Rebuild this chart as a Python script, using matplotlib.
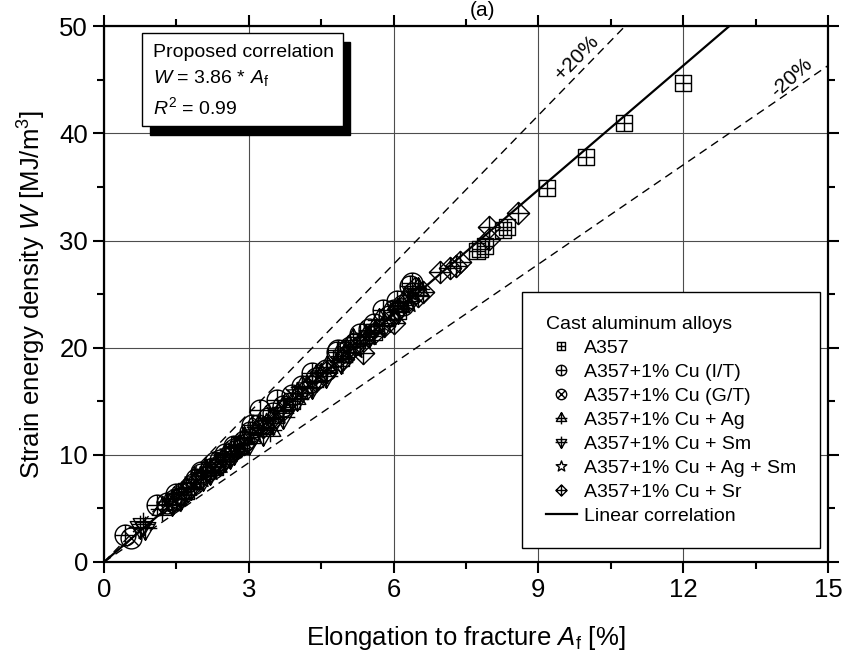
import numpy as np
import matplotlib
matplotlib.use("Agg")
import matplotlib.pyplot as plt
from matplotlib.path import Path
from matplotlib.patches import Rectangle
from matplotlib.ticker import MultipleLocator

plt.rcParams["font.family"] = ["Liberation Sans", "DejaVu Sans"]
plt.rcParams["mathtext.fontset"] = "custom"
plt.rcParams["mathtext.rm"] = "Liberation Sans"
plt.rcParams["mathtext.it"] = "Liberation Sans:italic"

# ------------------------------
# data (A_f [%], W [MJ/m3])
# ------------------------------
a357_x = [12.0, 10.77, 9.98, 9.18, 8.27, 8.35, 7.78, 7.72, 7.9, 6.1, 5.6, 4.9, 3.9, 2.8, 2.3, 1.7]
a357_y = [44.7, 41.0, 37.8, 34.9, 31.0, 31.3, 29.2, 29.0, 29.5, 23.4, 21.5, 19.0, 15.0, 10.9, 8.9, 6.6]

it_x = [6.38, 6.34, 6.07, 5.78, 4.85, 4.83, 3.58, 3.23, 3.07, 3.02, 2.3, 1.9, 1.5, 1.1, 0.43,
        2.7, 4.3, 5.3, 6.2, 2.0, 2.5, 3.4, 4.1, 5.1, 5.6]
it_y = [26.0, 25.8, 24.4, 23.5, 19.8, 19.6, 15.1, 14.2, 12.8, 12.1, 9.3, 7.7, 6.3, 5.3, 2.5,
        10.8, 17.6, 21.3, 24.0, 8.4, 10.1, 13.4, 16.4, 20.1, 22.2]

gt_x = [0.55, 1.3, 1.6, 2.0, 2.4, 2.7, 3.2, 3.5, 3.9, 4.4, 5.0, 5.5, 5.9, 6.4,
        1.45, 1.85, 2.25, 2.9, 3.7, 4.6, 5.2, 6.0]
gt_y = [2.2, 5.5, 6.3, 8.2, 9.5, 10.5, 12.8, 13.9, 15.6, 17.2, 19.6, 21.7, 23.0, 25.1,
        5.8, 7.3, 8.8, 11.3, 14.6, 17.9, 20.4, 23.5]

ag_x = [1.2, 1.7, 2.1, 2.5, 2.9, 3.44, 3.7, 4.1, 4.62, 5.16, 5.7, 6.5,
        1.5, 2.3, 2.75, 3.2, 3.95, 4.4, 5.4, 6.2]
ag_y = [4.9, 6.8, 8.6, 10.0, 11.6, 12.3, 14.5, 16.3, 18.2, 20.7, 22.6, 25.5,
        5.9, 9.0, 10.6, 12.6, 15.3, 17.4, 21.0, 24.3]

sm_x = [0.75, 0.85, 0.8, 1.4, 1.8, 2.2, 2.5, 2.7, 3.0, 3.3, 3.7, 4.3, 4.9, 5.5, 6.1,
        1.6, 2.05, 2.6, 3.5, 4.0, 4.6, 5.8]
sm_y = [3.3, 3.2, 3.5, 5.4, 6.9, 8.3, 9.6, 10.2, 11.1, 11.9, 13.5, 16.3, 18.7, 21.1, 23.3,
        6.0, 7.7, 9.8, 13.0, 15.2, 17.4, 22.1]

agsm_x = [1.3, 1.6, 1.89, 2.2, 2.6, 3.1, 3.6, 4.0, 4.5, 5.2, 5.8, 6.3,
          1.45, 2.0, 2.4, 2.85, 3.35, 4.2, 4.8, 5.5]
agsm_y = [5.3, 6.4, 7.65, 8.6, 10.3, 12.0, 13.9, 15.8, 17.5, 20.0, 22.3, 24.3,
          5.6, 7.9, 9.2, 11.0, 12.9, 16.4, 18.5, 21.2]

sr_x = [8.58, 7.98, 7.98, 7.38, 7.30, 7.17, 6.96, 6.6, 6.5, 6.3, 6.1, 6.0, 5.6, 5.37, 5.3,
        4.95, 4.6, 4.2, 3.7, 3.3, 2.9, 2.6, 2.2, 1.8, 1.5, 6.45, 5.8, 5.05, 4.4, 3.5, 2.4]
sr_y = [32.6, 31.25, 30.1, 28.0, 27.6, 27.4, 27.05, 25.2, 24.8, 24.4, 23.6, 22.3, 21.4, 19.5, 20.3,
        18.9, 17.7, 16.2, 14.2, 12.6, 11.0, 10.0, 8.5, 7.0, 5.9, 25.6, 22.0, 19.6, 16.9, 13.3, 9.1]

slope = 3.86
band = 0.20

# ------------------------------
# custom open markers
# ------------------------------
def seg(p, q):
    return Path([p, q], [Path.MOVETO, Path.LINETO])

sq = Path([(-1, -1), (1, -1), (1, 1), (-1, 1), (-1, -1)], closed=True)
m_sqplus = Path.make_compound_path(sq, seg((0, -1), (0, 1)), seg((-1, 0), (1, 0)))
m_cplus = Path.make_compound_path(Path.unit_circle(), seg((0, -1), (0, 1)), seg((-1, 0), (1, 0)))
d = 0.707
m_cx = Path.make_compound_path(Path.unit_circle(), seg((-d, -d), (d, d)), seg((-d, d), (d, -d)))
tri = Path([(0, 1), (-0.87, -0.5), (0.87, -0.5), (0, 1)], closed=True)
m_tup = Path.make_compound_path(tri, seg((0, 1), (0, -1)), seg((-1, 0.0), (1, 0.0)))
trid = Path([(0, -1), (-0.87, 0.5), (0.87, 0.5), (0, -1)], closed=True)
m_tdn = Path.make_compound_path(trid, seg((0, -1), (0, 1)), seg((-1, 0.0), (1, 0.0)))
m_star = Path.unit_regular_star(5, 0.42)
dia = Path([(0, 1), (1, 0), (0, -1), (-1, 0), (0, 1)], closed=True)
m_dia = Path.make_compound_path(dia, seg((0, -1), (0, 1)), seg((-1, 0), (1, 0)))

series = [
    (a357_x, a357_y, m_sqplus, 12, "A357"),
    (it_x, it_y, m_cplus, 15, "A357+1% Cu (I/T)"),
    (gt_x, gt_y, m_cx, 15, "A357+1% Cu (G/T)"),
    (ag_x, ag_y, m_tup, 17, "A357+1% Cu + Ag"),
    (sm_x, sm_y, m_tdn, 17, "A357+1% Cu + Sm"),
    (agsm_x, agsm_y, m_star, 16, "A357+1% Cu + Ag + Sm"),
    (sr_x, sr_y, m_dia, 16, "A357+1% Cu + Sr"),
]

fig = plt.figure(figsize=(8.43, 6.55), dpi=100)
ax = fig.add_axes([0.1234, 0.142, 0.8588, 0.818])

handles = []
for xs, ys, mk, ms, lab in series:
    h, = ax.plot(xs, ys, linestyle="none", marker=mk, markersize=ms,
                 markerfacecolor="none", markeredgecolor="black",
                 markeredgewidth=1.0, label=lab, zorder=3)
    handles.append(h)

xl = np.array([0, 50 / slope])
hl, = ax.plot(xl, slope * xl, color="black", lw=1.6, zorder=4, label="Linear correlation")
handles.append(hl)

xu = np.array([0, 50 / (slope * (1 + band))])
ax.plot(xu, slope * (1 + band) * xu, color="black", lw=1.0, dashes=(6, 4), zorder=2)
xd = np.array([0, 15])
ax.plot(xd, slope * (1 - band) * xd, color="black", lw=1.0, dashes=(6, 4), zorder=2)

ax.text(9.8, 47.1, "+20%", rotation=46, ha="center", va="center", fontsize=15)
ax.text(14.25, 45.2, "-20%", rotation=42, ha="center", va="center", fontsize=15)

ax.set_xlim(0, 15)
ax.set_ylim(0, 50)
ax.xaxis.set_major_locator(MultipleLocator(3))
ax.xaxis.set_minor_locator(MultipleLocator(1.5))
ax.yaxis.set_major_locator(MultipleLocator(10))
ax.yaxis.set_minor_locator(MultipleLocator(5))
ax.tick_params(which="both", direction="out", top=True, right=True, width=1.5)
ax.tick_params(which="major", length=8, labelsize=18.5)
ax.tick_params(which="minor", length=5)
for s in ax.spines.values():
    s.set_linewidth(1.6)
ax.grid(True, which="major", color="0.3", lw=0.8)
ax.set_axisbelow(True)

ax.set_xlabel("Elongation to fracture $\\it{A}_{\\rm f}$ [%]", fontsize=18.5, labelpad=16)
ax.set_ylabel("Strain energy density $\\it{W}$ [MJ/m$^3$]", fontsize=18.5, labelpad=8)

# correlation box with shadow
ax.add_patch(Rectangle((0.0635, 0.797), 0.2765, 0.173, transform=ax.transAxes,
                       facecolor="black", edgecolor="black", zorder=5))
ax.add_patch(Rectangle((0.0525, 0.813), 0.2775, 0.174, transform=ax.transAxes,
                       facecolor="white", edgecolor="black", lw=1.0, zorder=6))
ax.text(0.068, 0.950, "Proposed correlation", transform=ax.transAxes, fontsize=14,
        va="center", zorder=7)
ax.text(0.068, 0.903, "$\\it{W}$ = 3.86 * $\\it{A}_{\\rm f}$", transform=ax.transAxes,
        fontsize=14, va="center", zorder=7)
ax.text(0.068, 0.849, "$\\it{R}^2$ = 0.99", transform=ax.transAxes, fontsize=14,
        va="center", zorder=7)

leg = ax.legend(handles=handles, loc="lower right", bbox_to_anchor=(0.989, 0.026),
                title="Cast aluminum alloys", alignment="left", fontsize=14,
                title_fontsize=14, markerscale=0.5, handlelength=1.6, handletextpad=0.4,
                borderpad=1.2, labelspacing=0.33, borderaxespad=0, fancybox=False,
                framealpha=1, edgecolor="black")
leg.get_frame().set_linewidth(1.0)
leg.set_zorder(8)

fig.text(482 / 843, 0.999, "(a)", ha="center", va="top", fontsize=15)

fig.savefig("out.png", dpi=100)
